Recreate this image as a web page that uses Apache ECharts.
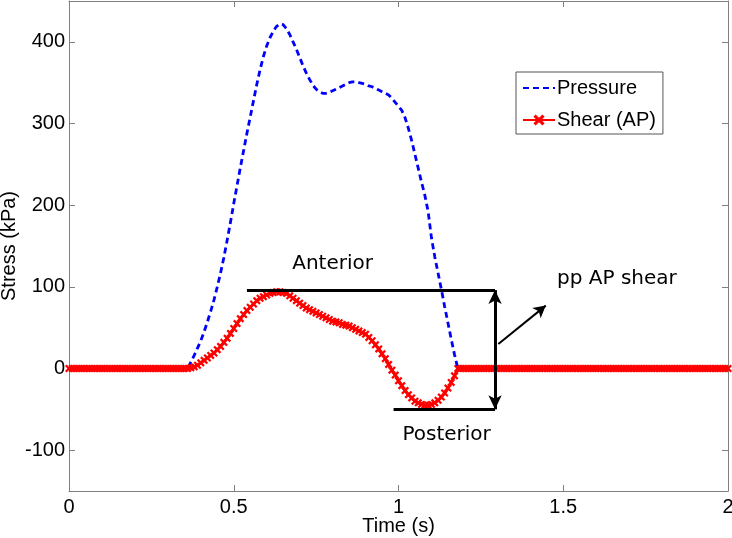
<!DOCTYPE html>
<html>
<head>
<meta charset="utf-8">
<script src="https://cdn.jsdelivr.net/npm/echarts@6/dist/echarts.min.js"></script>
<style>html,body{margin:0;padding:0;background:#fff;}#c{width:732px;height:538px;}</style>
</head>
<body>
<div id="c"></div>
<script>
const time = [
0.00,0.01,0.02,0.03,0.04,0.05,0.06,0.07,0.08,0.09,
0.10,0.11,0.12,0.13,0.14,0.15,0.16,0.17,0.18,0.19,
0.20,0.21,0.22,0.23,0.24,0.25,0.26,0.27,0.28,0.29,
0.30,0.31,0.32,0.33,0.34,0.35,0.36,0.37,0.38,0.39,
0.40,0.41,0.42,0.43,0.44,0.45,0.46,0.47,0.48,0.49,
0.50,0.51,0.52,0.53,0.54,0.55,0.56,0.57,0.58,0.59,
0.60,0.61,0.62,0.63,0.64,0.65,0.66,0.67,0.68,0.69,
0.70,0.71,0.72,0.73,0.74,0.75,0.76,0.77,0.78,0.79,
0.80,0.81,0.82,0.83,0.84,0.85,0.86,0.87,0.88,0.89,
0.90,0.91,0.92,0.93,0.94,0.95,0.96,0.97,0.98,0.99,
1.00,1.01,1.02,1.03,1.04,1.05,1.06,1.07,1.08,1.09,
1.10,1.11,1.12,1.13,1.14,1.15,1.16,1.17,1.18,1.19,
1.20,1.21,1.22,1.23,1.24,1.25,1.26,1.27,1.28,1.29,
1.30,1.31,1.32,1.33,1.34,1.35,1.36,1.37,1.38,1.39,
1.40,1.41,1.42,1.43,1.44,1.45,1.46,1.47,1.48,1.49,
1.50,1.51,1.52,1.53,1.54,1.55,1.56,1.57,1.58,1.59,
1.60,1.61,1.62,1.63,1.64,1.65,1.66,1.67,1.68,1.69,
1.70,1.71,1.72,1.73,1.74,1.75,1.76,1.77,1.78,1.79,
1.80,1.81,1.82,1.83,1.84,1.85,1.86,1.87,1.88,1.89,
1.90,1.91,1.92,1.93,1.94,1.95,1.96,1.97,1.98,1.99,
2.00];

const pressure = [
0,0,0,0,0,0,0,0,0,0,
0,0,0,0,0,0,0,0,0,0,
0,0,0,0,0,0,0,0,0,0,
0,0,0,0,0,0,0,8,16,25,
34,45,57,70,84,100,117,136,157,179,
202,224,246,267,288,308,328,348,366,382,
395,405,413,419,422,421,416,409,400,391,
381,371,362,354,347,342,339,337,337,338,
340,342,344,346,348,350,351,351,350,349,
348,346,345,343,341,339,337,335,331,326,
321,316,307,294,279,262,245,228,212,192,
160,137,117,97,76,56,36,17,0,0,
0,0,0,0,0,0,0,0,0,0,
0,0,0,0,0,0,0,0,0,0,
0,0,0,0,0,0,0,0,0,0,
0,0,0,0,0,0,0,0,0,0,
0,0,0,0,0,0,0,0,0,0,
0,0,0,0,0,0,0,0,0,0,
0,0,0,0,0,0,0,0,0,0,
0,0,0,0,0,0,0,0,0,0,
0];

const shear = [
0,0,0,0,0,0,0,0,0,0,
0,0,0,0,0,0,0,0,0,0,
0,0,0,0,0,0,0,0,0,0,
0,0,0,0,0,0,0,1,2,4,
7,10,13,16,19,23,27,32,37,43,
49,55,61,66,71,75,79,83,86,88,
90,92,93,94,94,93,92,89,86,83,
80,77,74,72,70,68,66,64,62,60,
58,57,56,54,53,52,50,48,46,44,
42,38,34,29,24,18,12,5,-2,-8,
-15,-21,-27,-32,-36,-40,-42,-44,-45,-45,
-44,-42,-39,-35,-30,-24,-17,-9,0,0,
0,0,0,0,0,0,0,0,0,0,
0,0,0,0,0,0,0,0,0,0,
0,0,0,0,0,0,0,0,0,0,
0,0,0,0,0,0,0,0,0,0,
0,0,0,0,0,0,0,0,0,0,
0,0,0,0,0,0,0,0,0,0,
0,0,0,0,0,0,0,0,0,0,
0,0,0,0,0,0,0,0,0,0,
0];

const xTicks = [0, 0.5, 1, 1.5, 2];
const yTicks = [-100, 0, 100, 200, 300, 400];

// annotation geometry in data units
const anteriorLine = [[0.54, 96], [1.293, 96]];
const posteriorLine = [[0.985, -50], [1.293, -50]];
const ppArrow = [[1.293, 96], [1.293, -50]];
const pointerArrow = [[1.303, 30], [1.447, 77]];
const annotationTexts = [
  [0.80, 128, 'Anterior'],
  [1.146, -81, 'Posterior'],
  [1.663, 110, 'pp AP shear']
];

const pressureData = time.map((t, i) => [t, pressure[i]]);
const shearData = time.map((t, i) => [t, shear[i]]);

const xMark = 'path://M0,2L2,0L5,3L8,0L10,2L7,5L10,8L8,10L5,7L2,10L0,8L3,5Z';
const axisGray = '#7f7f7f';
const font = 'Liberation Sans, Arial, Helvetica, sans-serif';

const chart = echarts.init(document.getElementById('c'), null, {renderer: 'canvas'});

const baseX = {
  type: 'value', min: 0, max: 2, interval: 0.5,
  axisLine: {show: true, onZero: false, lineStyle: {color: axisGray, width: 1}},
  axisTick: {show: true, inside: true, length: 6, lineStyle: {color: axisGray}},
  splitLine: {show: false}
};
const baseY = {
  type: 'value', min: -150, max: 450, interval: 50,
  axisLine: {show: true, onZero: false, lineStyle: {color: axisGray, width: 1}},
  axisTick: {show: true, inside: true, length: 6, lineStyle: {color: axisGray},
    customValues: yTicks},
  splitLine: {show: false}
};

const lineStyleBlack = {color: '#000', width: 3, type: 'solid'};

chart.setOption({
  animation: false,
  backgroundColor: '#fff',
  grid: {left: 69, right: 4, top: 1, bottom: 47, containLabel: false, outerBoundsMode: 'none'},
  legend: {
    data: [
      {name: 'Pressure', itemStyle: {opacity: 0}},
      {name: 'Shear (AP)'}
    ],
    orient: 'vertical',
    left: 516, top: 72,
    itemWidth: 32, itemHeight: 14, itemGap: 12,
    padding: [6, 7, 4, 6],
    borderColor: '#555', borderWidth: 1,
    backgroundColor: '#fff',
    textStyle: {fontFamily: font, fontSize: 20, color: '#000', padding: [0, 0, 0, -3]}
  },
  xAxis: [
    Object.assign({}, baseX, {
      position: 'bottom',
      name: 'Time (s)', nameLocation: 'middle', nameGap: 25, nameMoveOverlap: false,
      nameTextStyle: {fontFamily: font, fontSize: 20, color: '#000'},
      axisLabel: {show: true, fontFamily: font, fontSize: 20, color: '#000', margin: 6,
        customValues: xTicks, formatter: v => String(v)}
    }),
    Object.assign({}, baseX, {position: 'top', axisLabel: {show: false}})
  ],
  yAxis: [
    Object.assign({}, baseY, {
      position: 'left',
      name: 'Stress (kPa)', nameLocation: 'middle', nameGap: 50, nameMoveOverlap: false,
      nameTextStyle: {fontFamily: font, fontSize: 20, color: '#000'},
      axisLabel: {show: true, fontFamily: font, fontSize: 20, color: '#000', margin: 4,
        customValues: yTicks, formatter: v => String(v)}
    }),
    Object.assign({}, baseY, {position: 'right', axisLabel: {show: false}})
  ],
  series: [
    {
      name: 'Pressure', type: 'line', data: pressureData,
      xAxisIndex: 0, yAxisIndex: 0,
      showSymbol: false, symbol: 'none',
      lineStyle: {color: '#0000ff', width: 2.8, type: [6, 4]},
      itemStyle: {color: '#0000ff'},
      z: 3
    },
    {
      name: 'Shear (AP)', type: 'line', data: shearData,
      xAxisIndex: 0, yAxisIndex: 0,
      showSymbol: true, symbol: xMark, symbolSize: 8,
      lineStyle: {color: '#ff0000', width: 3},
      itemStyle: {color: '#ff0000'},
      z: 4
    },
    {
      name: 'annot', type: 'line', data: [],
      xAxisIndex: 0, yAxisIndex: 0,
      silent: true,
      markLine: {
        silent: true, animation: false,
        label: {show: false},
        lineStyle: lineStyleBlack,
        emphasis: {disabled: true},
        data: [
          [{coord: anteriorLine[0], symbol: 'none'}, {coord: anteriorLine[1], symbol: 'none'}],
          [{coord: posteriorLine[0], symbol: 'none'}, {coord: posteriorLine[1], symbol: 'none'}],
          [{coord: ppArrow[0], symbol: 'arrow', symbolSize: [10, 14]}, {coord: ppArrow[1], symbol: 'arrow', symbolSize: [10, 14]}],
          [{coord: pointerArrow[0], symbol: 'none', lineStyle: {width: 2}}, {coord: pointerArrow[1], symbol: 'arrow', symbolSize: [10, 12], lineStyle: {width: 2}}]
        ]
      },
      z: 5
    },
    {
      name: 'texts', type: 'scatter', silent: true,
      xAxisIndex: 0, yAxisIndex: 0,
      symbolSize: 0,
      itemStyle: {opacity: 1},
      data: annotationTexts.map(a => ({value: [a[0], a[1]], name: a[2]})),
      label: {show: true, position: 'inside', formatter: p => p.name, opacity: 1,
        fontFamily: 'DejaVu Sans, sans-serif', fontSize: 20, color: '#000'},
      z: 6
    }
  ]
});
</script>
</body>
</html>
